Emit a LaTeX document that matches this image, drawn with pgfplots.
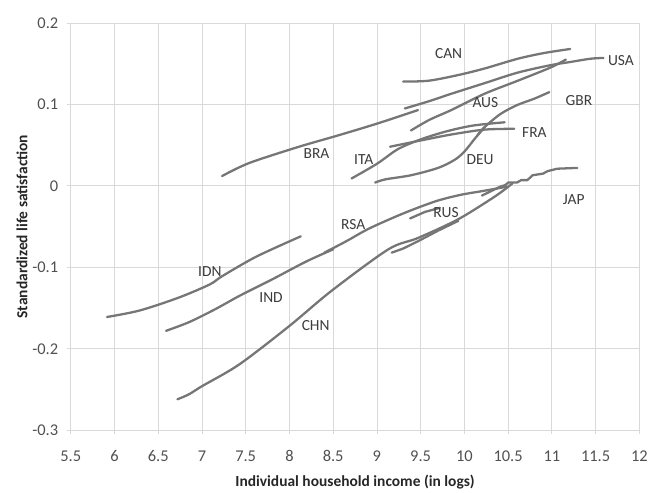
\documentclass[border=0pt]{standalone}
\usepackage{fontspec}
\setmainfont{Carlito}
\usepackage{pgfplots}
\pgfplotsset{compat=1.18}
\definecolor{linegray}{RGB}{118,118,118}
\definecolor{gridgray}{RGB}{217,217,217}
\definecolor{ticktext}{RGB}{80,80,80}
\definecolor{lbltext}{RGB}{60,60,60}
\begin{document}
\begin{tikzpicture}
\begin{axis}[
  width=571pt, height=409pt, scale only axis,
  xmin=5.5, xmax=12, ymin=-0.3, ymax=0.2,
  xtick={5.5,6,6.5,7,7.5,8,8.5,9,9.5,10,10.5,11,11.5,12},
  xticklabels={5.5,6,6.5,7,7.5,8,8.5,9,9.5,10,10.5,11,11.5,12},
  ytick={-0.3,-0.2,-0.1,0,0.1,0.2},
  yticklabels={-0.3,-0.2,-0.1,0,0.1,0.2},
  xtick pos=bottom, ytick pos=left,
  tick align=outside, major tick length=4pt,
  tick style={gridgray, line width=0.8pt},
  grid=major,
  major grid style={gridgray, line width=0.8pt},
  axis line style={gridgray, line width=0.8pt},
  ticklabel style={font=\fontsize{16.5}{18}\selectfont, text=ticktext},
  xticklabel style={yshift=-13pt},
  yticklabel style={xshift=-5pt},
  xlabel={Individual household income (in logs)},
  ylabel={Standardized life satisfaction},
  xlabel style={font=\bfseries\fontsize{15.5}{17}\selectfont, text=black!85, at={(axis description cs:0.5,-0.128)}, anchor=center},
  ylabel style={font=\bfseries\fontsize{15.5}{17}\selectfont, text=black!85, at={(axis description cs:-0.0858,0.5)}, anchor=center},
  every axis plot/.append style={linegray, line width=2.3pt, line join=round, line cap=round},
  unbounded coords=jump,
  clip=false,
]
% CAN
\addplot[smooth] coordinates {(9.30,0.128)(9.59,0.129)(9.93,0.136)(10.23,0.144)(10.61,0.156)(10.91,0.163)(11.21,0.168)};
% USA
\addplot[smooth] coordinates {(9.32,0.095)(9.6,0.104)(9.85,0.113)(10.23,0.126)(10.61,0.139)(10.98,0.148)(11.21,0.152)(11.44,0.156)(11.59,0.157)};
% AUS
\addplot[smooth] coordinates {(9.39,0.068)(9.6,0.081)(9.85,0.093)(10.23,0.113)(10.61,0.129)(10.98,0.145)(11.16,0.155)};
% GBR
\addplot[smooth] coordinates {(10.15,0.062)(10.23,0.072)(10.41,0.088)(10.6,0.099)(10.8,0.107)(10.97,0.115)};
% DEU
\addplot[smooth] coordinates {(8.98,0.004)(9.1,0.008)(9.39,0.013)(9.7,0.022)(9.89,0.032)(10.0,0.042)(10.12,0.058)(10.23,0.072)};
% ITA
\addplot[smooth] coordinates {(8.71,0.009)(9.0,0.027)(9.24,0.045)(9.5,0.057)(9.8,0.067)(10.1,0.074)(10.46,0.078)};
% FRA
\addplot[smooth] coordinates {(9.15,0.048)(9.47,0.055)(9.85,0.063)(10.23,0.069)(10.57,0.070)};
% BRA
\addplot[smooth] coordinates {(7.23,0.012)(7.54,0.028)(8.11,0.048)(8.56,0.062)(9.02,0.077)(9.47,0.093)};
% IDN
\addplot[smooth] coordinates {(5.915,-0.161)(6.29,-0.153)(6.74,-0.137)(7.09,-0.121)(7.23,-0.111)(7.62,-0.087)(8.13,-0.062)};
% IND
\addplot[smooth] coordinates {(6.59,-0.178)(6.86,-0.167)(7.16,-0.151)(7.43,-0.135)(7.80,-0.115)(8.19,-0.093)(8.50,-0.078)};
% RSA
\addplot[smooth] coordinates {(8.40,-0.082)(8.65,-0.068)(8.90,-0.053)(9.21,-0.038)(9.44,-0.028)(9.70,-0.018)(9.96,-0.011)(10.23,-0.006)(10.49,-0.001)};
% CHN
\addplot[smooth] coordinates {(6.72,-0.262)(6.85,-0.256)(7.0,-0.246)(7.43,-0.219)(8.0,-0.172)(8.48,-0.129)(9.13,-0.078)(9.47,-0.064)(9.93,-0.041)(10.35,-0.013)(10.55,0.003)};
% RUS
\addplot[sharp plot] coordinates {(9.38,-0.040)(9.55,-0.032)(9.72,-0.027)(9.8,nan)(9.17,-0.082)(9.3,-0.077)(9.47,-0.068)(9.7,-0.055)(9.93,-0.043)};
% JAP
\addplot[sharp plot] coordinates {(10.2,-0.012)(10.41,-0.001)(10.47,0.001)(10.5,0.004)(10.6,0.004)(10.65,0.007)(10.72,0.007)(10.78,0.013)(10.9,0.015)(10.95,0.018)(11.06,0.021)(11.29,0.022)};
\begin{scope}[every node/.style={font=\fontsize{15.5}{17}\selectfont, text=lbltext}]
\node at (axis cs:9.82,0.162) {CAN};
\node at (axis cs:11.79,0.154) {USA};
\node at (axis cs:10.24,0.102) {AUS};
\node at (axis cs:11.31,0.105) {GBR};
\node at (axis cs:10.80,0.066) {FRA};
\node at (axis cs:10.18,0.032) {DEU};
\node at (axis cs:8.85,0.032) {ITA};
\node at (axis cs:8.31,0.040) {BRA};
\node at (axis cs:11.25,-0.017) {JAP};
\node at (axis cs:9.79,-0.033) {RUS};
\node at (axis cs:8.73,-0.048) {RSA};
\node at (axis cs:7.09,-0.105) {IDN};
\node at (axis cs:7.79,-0.137) {IND};
\node at (axis cs:8.30,-0.172) {CHN};
\end{scope}
\end{axis}
\path ([xshift=-71pt,yshift=-61pt]current axis.south west) rectangle ([xshift=9pt,yshift=23pt]current axis.north east);
\end{tikzpicture}
\end{document}
